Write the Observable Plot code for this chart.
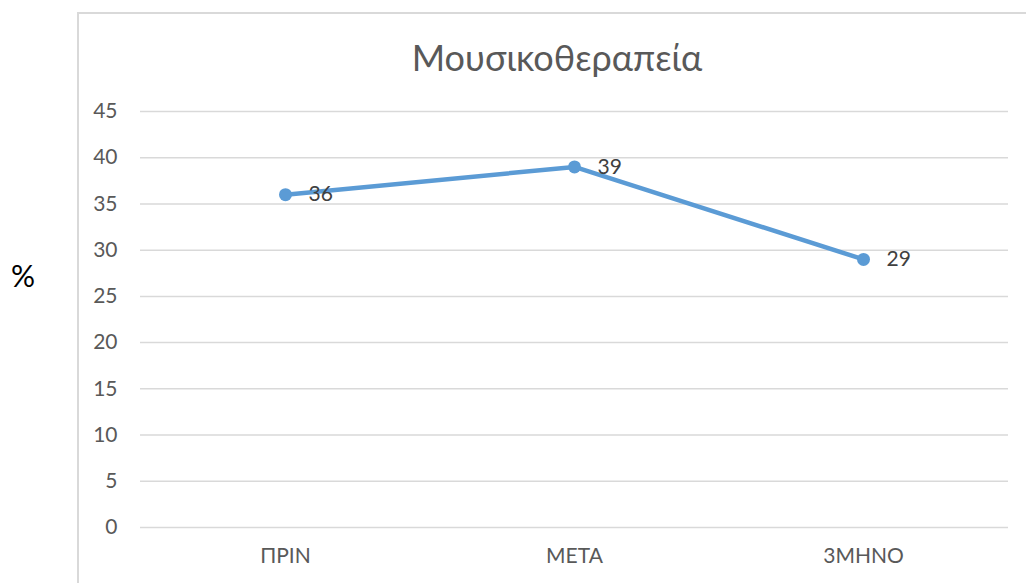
<!DOCTYPE html>
<html>
<head>
<meta charset="utf-8">
<script src="https://cdn.jsdelivr.net/npm/d3@7"></script>
<script src="https://cdn.jsdelivr.net/npm/@observablehq/plot@0.6"></script>
<style>
  body { margin: 0; background: #fff; }
  #wrap { position: relative; width: 1026px; height: 583px; overflow: hidden; background: #fff; font-family: Lato, "Open Sans", sans-serif; }
  #frame { position: absolute; left: 77px; top: 12px; width: 1200px; height: 800px; border: 2px solid #d9d9d9; box-sizing: border-box; }
  #title { position: absolute; left: 77px; width: 960px; top: 38px; text-align: center; font-size: 36px; line-height: 38px; color: #595959; }
  #ylab { position: absolute; left: 11px; top: 258px; font-size: 30px; line-height: 34px; color: #000; }
  #chart { position: absolute; left: 0; top: 0; }
</style>
</head>
<body>
<div id="wrap">
  <div id="frame"></div>
  <div id="title">Μουσικοθεραπεία</div>
  <div id="ylab">%</div>
  <div id="chart"></div>
</div>
<script>
const categories = ["ΠΡΙΝ", "ΜΕΤΑ", "3ΜΗΝΟ"];
const values = [36, 39, 29];
const yTicks = [0, 5, 10, 15, 20, 25, 30, 35, 40, 45];

const data = categories.map((c, i) => ({cat: c, value: values[i]}));

const chart = Plot.plot({
  width: 1026,
  height: 583,
  marginLeft: 140,
  marginRight: 18,
  marginTop: 111,
  marginBottom: 56,
  style: {background: "transparent", fontFamily: "Lato, 'Open Sans', sans-serif"},
  x: {type: "point", domain: categories, padding: 0.5},
  y: {domain: [0, 45]},
  marks: [
    Plot.ruleY(yTicks, {stroke: "#d9d9d9", strokeWidth: 1.5, strokeOpacity: 1}),
    Plot.axisY({ticks: yTicks, tickSize: 0, tickPadding: 23, fontSize: 21, fill: "#595959", label: null}),
    Plot.axisX({tickSize: 0, tickPadding: 21, fontSize: 21, fill: "#595959", label: null}),
    Plot.line(data, {x: "cat", y: "value", stroke: "#5b9bd5", strokeWidth: 4.5}),
    Plot.dot(data, {x: "cat", y: "value", r: 6.5, fill: "#5b9bd5", stroke: null}),
    Plot.text(data, {x: "cat", y: "value", text: d => String(d.value), dx: 23, textAnchor: "start", fontSize: 21, fill: "#404040"})
  ]
});
document.getElementById("chart").appendChild(chart);
</script>
</body>
</html>
